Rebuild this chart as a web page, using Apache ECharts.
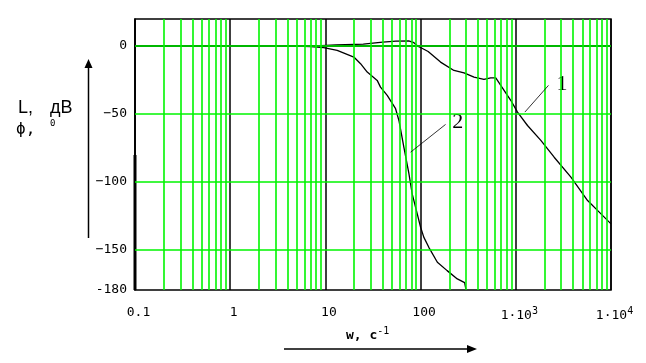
<!DOCTYPE html>
<html><head><meta charset="utf-8">
<script src="https://cdn.jsdelivr.net/npm/echarts@6/dist/echarts.min.js"></script>
<style>html,body{margin:0;padding:0;background:#fff}#c{width:646px;height:363px}</style>
</head><body><div id="c"></div>
<script>
// Curve 1: L (magnitude, dB)
const w1 = [0.1, 5, 8, 13, 25, 40, 55, 75, 85, 93, 100, 120, 162, 224, 286, 364, 463, 545, 616, 695, 753, 885, 1042, 1327, 1832, 2529, 3793, 5675, 7852, 10000];
const L1 = [0, 0, 0.2, 0.8, 1.5, 3.0, 3.7, 3.8, 2.5, 0, -1.0, -4.0, -11.8, -18, -19.7, -22.9, -24.6, -23.4, -23.5, -29, -32.7, -40, -48.7, -58.6, -69.6, -82, -96.7, -114, -123.8, -131.2];
// Curve 2: phase (deg)
const w2 = [0.1, 5, 7, 9.6, 13.3, 19.9, 23.4, 27.5, 35, 37.9, 44.6, 54.6, 59.2, 66.7, 75.4, 81.6, 92.2, 100, 108, 122, 150, 190, 243, 290, 298, 300];
const P2 = [0, 0, -0.3, -1.2, -3.2, -8.1, -13, -19.2, -25.3, -30.3, -36.4, -46.2, -54.9, -74.6, -94.2, -109, -123.8, -133.7, -141, -148.5, -159.5, -165.7, -171.8, -174.5, -175.5, -180];
// Zero reference (dashed)
const wRef = [5, 10000];
const ref = [0, 0];
// Axis ticks
const xTicks = [0.1, 1, 10, 100, 1000, 10000];
const xTickLabels = ['0.1', '1', '10', '100', '1·10|3', '1·10|4'];
const yLabelValues = [0, -50, -100, -150, -180];
const yLabelTexts = ['0', '\u221250', '\u2212100', '\u2212150', '-180'];
const yGrid = [0, -50, -100, -150];
const minorMult = [2, 3, 4, 5, 6, 7, 8, 9];
// Annotations (data coords)
const ann1 = {text: '1', at: [3050, -28.5], from: [1245, -48.7], to: [2203, -29]};
const ann2 = {text: '2', at: [245, -56], from: [78.5, -78.3], to: [183, -57.8]};

const green = '#00f500';
const minorX = [];
xTicks.slice(0, -1).forEach(d => minorMult.forEach(m => minorX.push(+(d * m).toPrecision(6))));

const mono = 'DejaVu Sans Mono';
const chart = echarts.init(document.getElementById('c'), null, {renderer: 'canvas'});
const pair = (xs, ys) => xs.map((x, i) => [x, ys[i]]);

chart.setOption({
  animation: false,
  grid: {left: 135, right: 35, top: 19, bottom: 73, show: true, borderColor: '#000', borderWidth: 1.5},
  xAxis: {
    type: 'log', logBase: 10, min: 0.1, max: 10000, splitNumber: 5,
    axisLine: {show: true, lineStyle: {color: '#000', width: 2}},
    axisTick: {show: false},
    splitLine: {show: true, lineStyle: {color: '#000', width: 1.5}},
    axisLabel: {
      margin: 16, color: '#000', fontFamily: mono, fontSize: 13, padding: [0, 0, 0, 7],
      formatter: v => {
        const i = xTicks.findIndex(t => Math.abs(Math.log10(t) - Math.log10(v)) < 1e-6);
        if (i < 0) return '';
        const s = xTickLabels[i];
        if (s.indexOf('|') >= 0) { const p = s.split('|'); return '{b|' + p[0] + '}{s|' + p[1] + '}'; }
        return '{b|' + s + '}';
      },
      rich: {
        b: {fontFamily: mono, fontSize: 13, color: '#000'},
        s: {fontFamily: mono, fontSize: 10, color: '#000', verticalAlign: 'top', padding: [0, 0, 9, 0]}
      }
    }
  },
  yAxis: {
    type: 'value', min: -180, max: 20, interval: 10,
    axisLine: {show: true, lineStyle: {color: '#000', width: 1.5}},
    axisTick: {show: false},
    splitLine: {show: false},
    axisLabel: {
      margin: 8, color: '#000', fontFamily: mono, fontSize: 13,
      formatter: v => { const i = yLabelValues.indexOf(v); return i < 0 ? '' : yLabelTexts[i]; }
    }
  },
  series: [
    {
      type: 'line', data: [], silent: true, z: 1,
      markLine: {
        silent: true, symbol: 'none', animation: false, label: {show: false},
        lineStyle: {color: green, width: 1.6, type: 'solid'},
        data: minorX.map(x => ({xAxis: x})).concat(yGrid.map(y => ({yAxis: y})))
      }
    },
    {type: 'line', data: pair(wRef, ref), showSymbol: false, z: 3,
     lineStyle: {color: '#000', width: 1, type: [3, 2]}},
    {type: 'line', data: pair(w1, L1), showSymbol: false, z: 4,
     lineStyle: {color: '#000', width: 1.3},
     markLine: {silent: true, symbol: 'none', label: {show: false}, lineStyle: {color: '#000', width: 0.8, type: 'solid'},
       data: [[{coord: ann1.from}, {coord: ann1.to}], [{coord: ann2.from}, {coord: ann2.to}]]}},
    {type: 'line', data: pair(w2, P2), showSymbol: false, z: 4,
     lineStyle: {color: '#000', width: 1.3}}
  ]
});

const p1 = chart.convertToPixel({gridIndex: 0}, ann1.at);
const p2 = chart.convertToPixel({gridIndex: 0}, ann2.at);
const serif = 'Liberation Serif';
chart.setOption({
  graphic: [
    {type: 'text', x: p1[0], y: p1[1], style: {text: ann1.text, font: '22px "' + serif + '"', fill: '#000', align: 'center', verticalAlign: 'middle'}},
    {type: 'text', x: p2[0], y: p2[1], style: {text: ann2.text, font: '22px "' + serif + '"', fill: '#000', align: 'center', verticalAlign: 'middle'}},
    // y-axis title
    {type: 'text', x: 18, y: 108, style: {text: 'L,', font: '18px "Liberation Sans"', fill: '#000', verticalAlign: 'middle'}},
    {type: 'text', x: 50, y: 108, style: {text: 'дВ', font: '18px "Liberation Sans"', fill: '#000', verticalAlign: 'middle'}},
    {type: 'text', x: 16, y: 130, style: {text: 'ϕ,', font: '16px "DejaVu Sans Mono"', fill: '#000', verticalAlign: 'middle'}},
    {type: 'text', x: 50, y: 124, style: {text: '0', font: '9px "DejaVu Sans Mono"', fill: '#000', verticalAlign: 'middle'}},
    // vertical arrow
    {type: 'line', shape: {x1: 88.5, y1: 66, x2: 88.5, y2: 238}, style: {stroke: '#000', lineWidth: 1.5}},
    {type: 'polygon', shape: {points: [[88.5, 59], [84.5, 68], [92.5, 68]]}, style: {fill: '#000'}},
    // x-axis title
    {type: 'text', x: 346, y: 336, style: {
      text: '{b|w, c}{s|-1}', fill: '#000', verticalAlign: 'middle',
      rich: {b: {font: 'bold 13px "DejaVu Sans Mono"', fill: '#000'}, s: {font: '10px "DejaVu Sans Mono"', fill: '#000', verticalAlign: 'top', padding: [0, 0, 10, 0]}}}},
    // horizontal arrow
    {type: 'line', shape: {x1: 284, y1: 349, x2: 470, y2: 349}, style: {stroke: '#000', lineWidth: 1.5}},
    {type: 'polygon', shape: {points: [[477, 349], [467, 345], [467, 353]]}, style: {fill: '#000'}},
    // thick left border artifact
    {type: 'rect', shape: {x: 133.5, y: 155, width: 3, height: 135}, style: {fill: '#000'}}
  ]
});
</script></body></html>
